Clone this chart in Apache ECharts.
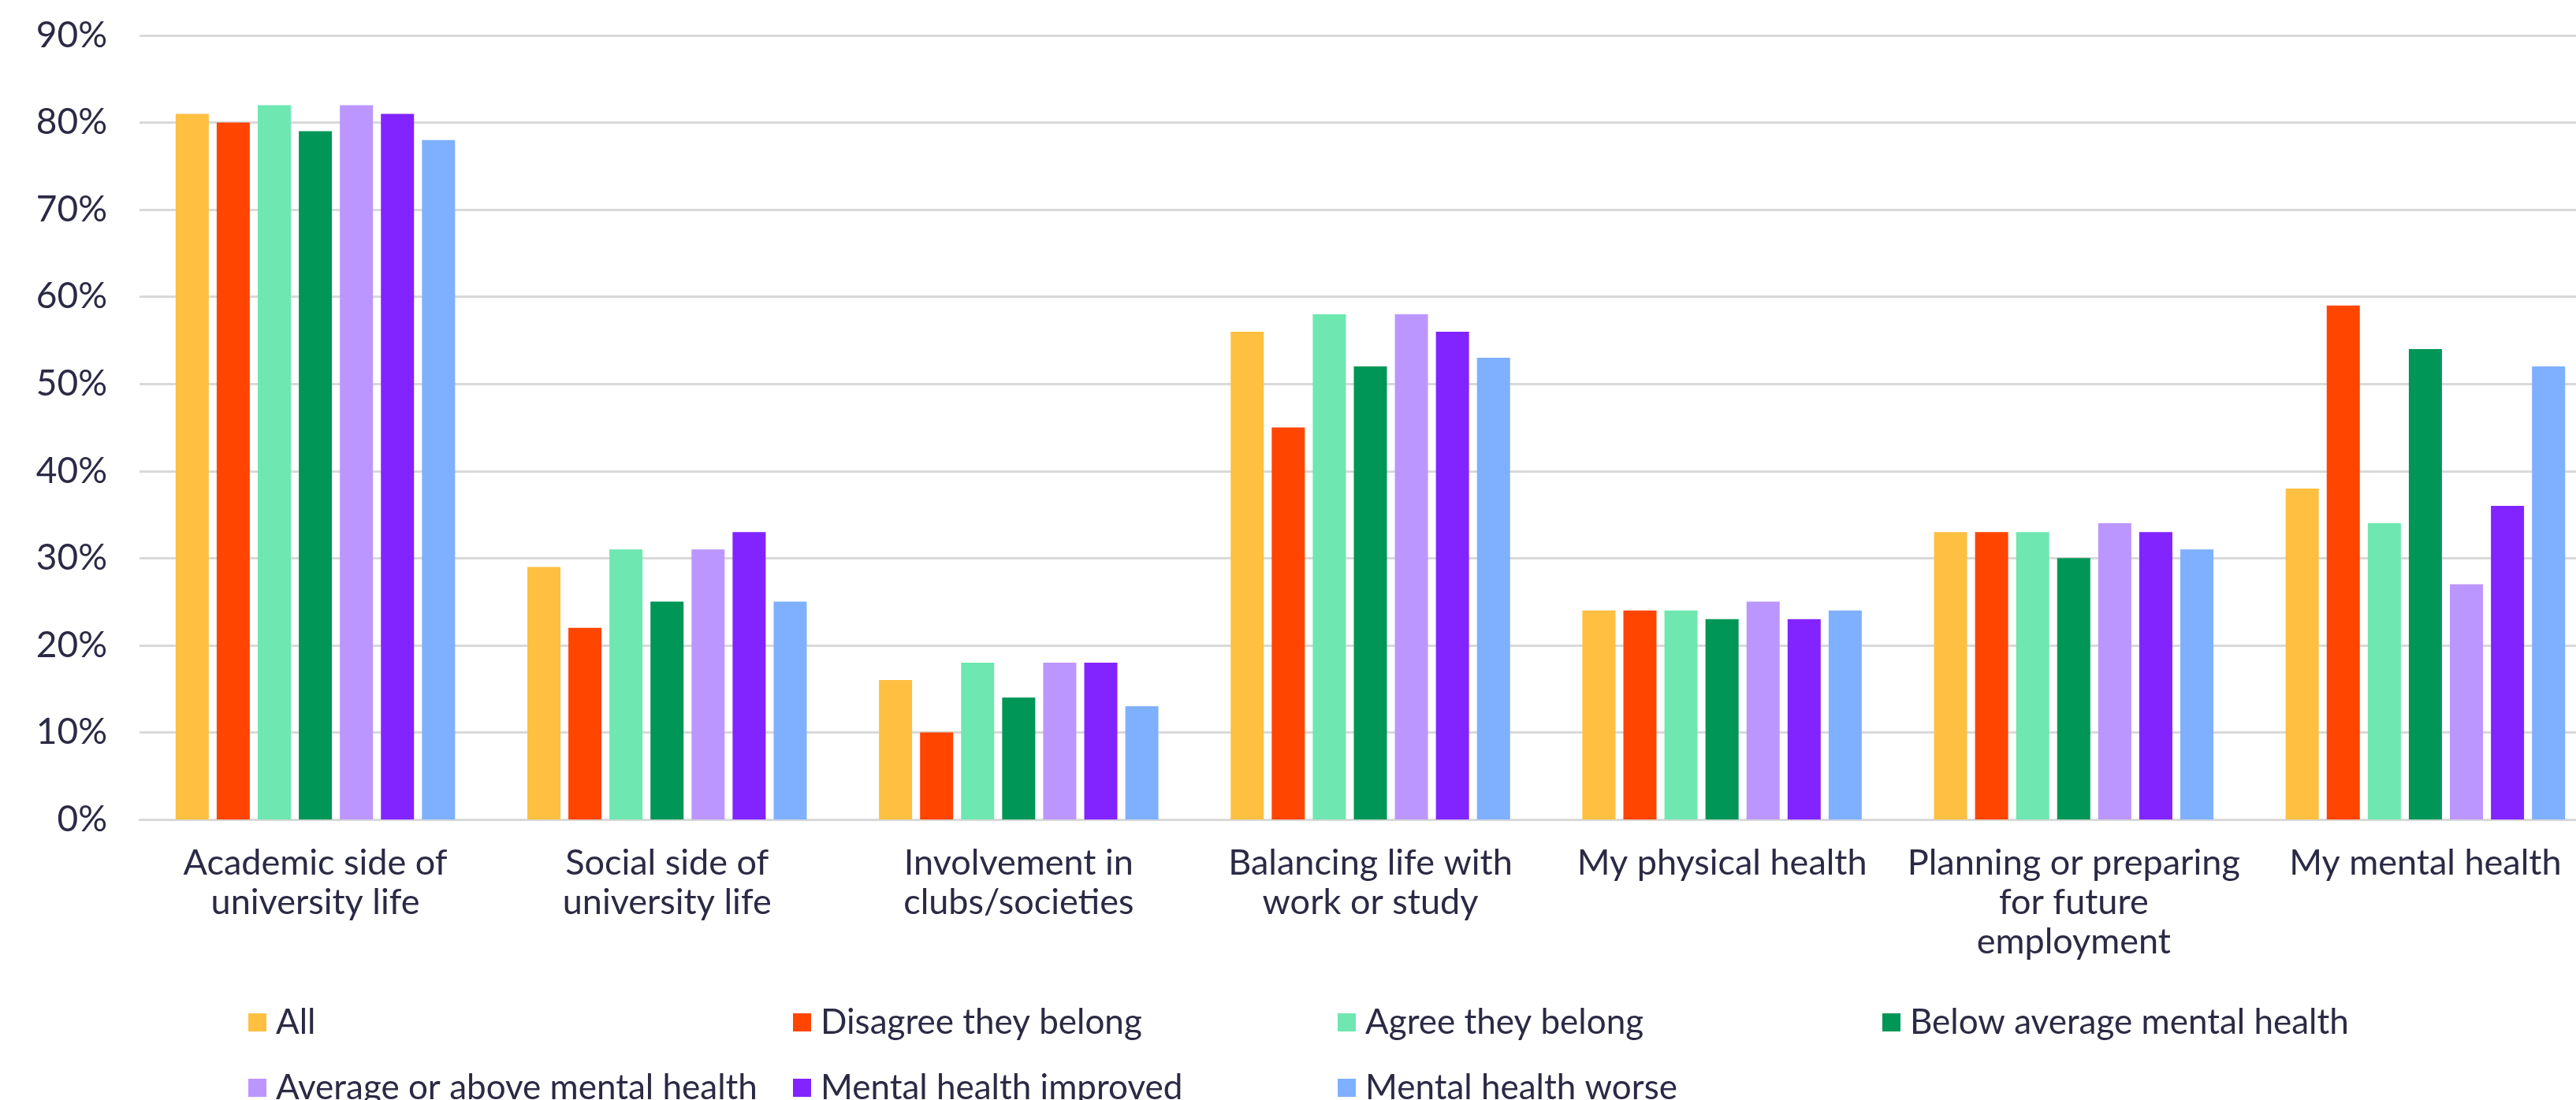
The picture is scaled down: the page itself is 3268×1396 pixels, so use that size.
<!DOCTYPE html>
<html>
<head>
<meta charset="utf-8">
<script src="https://cdn.jsdelivr.net/npm/echarts@6/dist/echarts.min.js"></script>
<style>
html,body{margin:0;padding:0;background:#fff;overflow:hidden;width:3268px;height:1396px;}
#chart{width:3300px;height:1396px;}
</style>
</head>
<body>
<div id="chart"></div>
<script>
const categories = [
  "Academic side of\nuniversity life",
  "Social side of\nuniversity life",
  "Involvement in\nclubs/societies",
  "Balancing life with\nwork or study",
  "My physical health",
  "Planning or preparing\nfor future\nemployment",
  "My mental health"
];
const seriesNames = [
  "All",
  "Disagree they belong",
  "Agree they belong",
  "Below average mental health",
  "Average or above mental health",
  "Mental health improved",
  "Mental health worse"
];
const allValues        = [81, 29, 16, 56, 24, 33, 38];
const disagreeValues   = [80, 22, 10, 45, 24, 33, 59];
const agreeValues      = [82, 31, 18, 58, 24, 33, 34];
const belowAvgValues   = [79, 25, 14, 52, 23, 30, 54];
const aboveAvgValues   = [82, 31, 18, 58, 25, 34, 27];
const improvedValues   = [81, 33, 18, 56, 23, 33, 36];
const worseValues      = [78, 25, 13, 53, 24, 31, 52];
const yTicks = [0, 10, 20, 30, 40, 50, 60, 70, 80, 90];

const seriesValues = [allValues, disagreeValues, agreeValues, belowAvgValues, aboveAvgValues, improvedValues, worseValues];
const colors = ["#FFBF41", "#FF4500", "#6EE7B0", "#009657", "#BC96FF", "#8224FF", "#7EB0FF"];
const textColor = "#2B2A45";
const fontFamily = "Lato";

const chart = echarts.init(document.getElementById('chart'), null, {renderer: 'canvas'});
chart.setOption({
  animation: false,
  backgroundColor: '#fff',
  color: colors,
  grid: {left: 177, top: 45, width: 3123, height: 995, containLabel: false},
  legend: {
    left: 315, top: 1256, width: 2800, padding: 0,
    itemWidth: 23, itemHeight: 23, itemGap: 0,
    icon: 'rect',
    data: seriesNames,
    textStyle: {
      color: textColor, fontFamily: fontFamily, fontSize: 44,
      lineHeight: 83, width: 656, padding: [0, 0, 0, 7], overflow: 'none'
    }
  },
  xAxis: {
    type: 'category',
    data: categories,
    axisLine: {show: true, lineStyle: {color: '#D9D9D9', width: 3}},
    axisTick: {show: false},
    axisLabel: {
      interval: 0, color: textColor, fontFamily: fontFamily, fontSize: 45,
      lineHeight: 50, margin: 30
    }
  },
  yAxis: {
    type: 'value',
    min: yTicks[0], max: yTicks[yTicks.length - 1], interval: 10,
    axisLine: {show: false},
    axisTick: {show: false},
    splitLine: {lineStyle: {color: '#D9D9D9', width: 3}},
    axisLabel: {
      color: textColor, fontFamily: fontFamily, fontSize: 46, margin: 41,
      formatter: '{value}%'
    }
  },
  series: seriesNames.map((name, i) => ({
    name: name,
    type: 'bar',
    data: seriesValues[i],
    barWidth: 42,
    barGap: '24%',
    itemStyle: {color: colors[i]}
  }))
});
</script>
</body>
</html>
